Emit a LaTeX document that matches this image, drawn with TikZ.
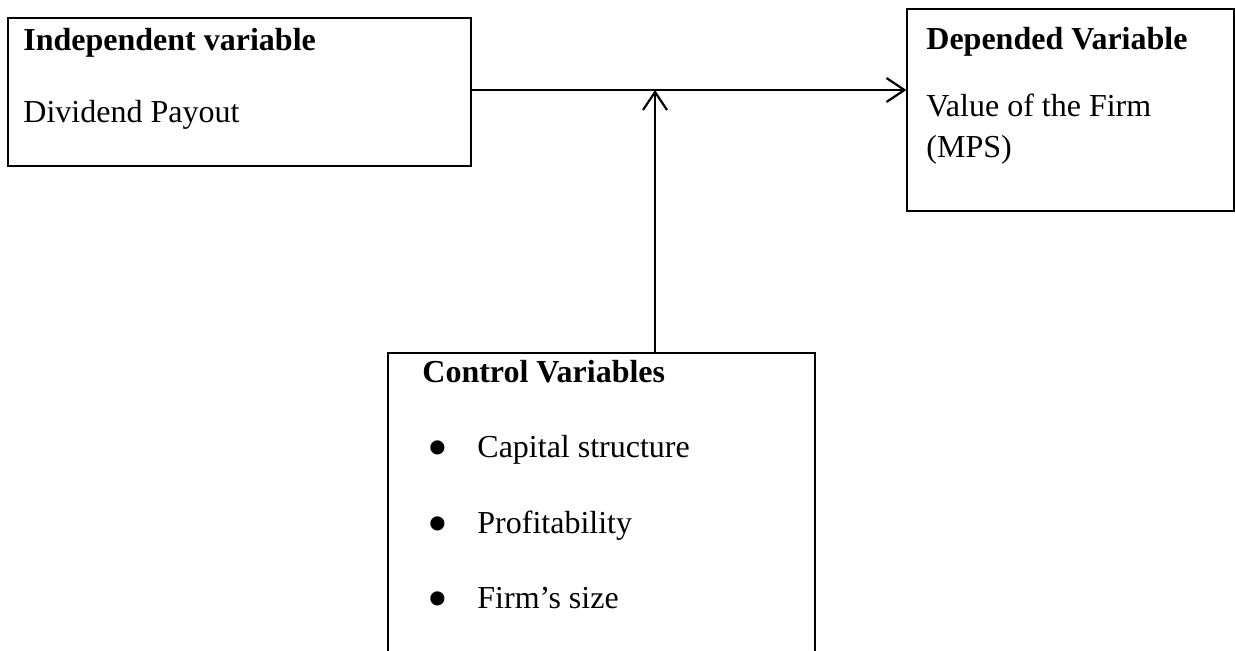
\documentclass[tikz,border=0pt]{standalone}
\usepackage{fontspec}
\setmainfont{Liberation Serif}
\usetikzlibrary{arrows.meta, positioning}
\tikzstyle{varbox} = [rectangle, draw=black, line width=0.6pt, inner sep=0pt]
\tikzstyle{label} = [anchor=base west, inner sep=0pt, font=\fontsize{16}{19}\selectfont]
\tikzstyle{heading} = [label, font=\fontsize{16}{19}\selectfont\bfseries]
\tikzstyle{arrow} = [line width=1.1pt,->,>={Straight Barb[length=9pt,width=12pt]}]
\newcommand{\bigbullet}{\makebox[25pt][l]{\raisebox{-5.2pt}{\scalebox{1.85}{\textbullet}}}}

\begin{document}
\begin{tikzpicture}[x=0.5pt, y=-0.5pt]
\useasboundingbox (0,0) rectangle (1235,650);

\node (ind) [varbox, minimum width=231.5pt, minimum height=74pt] at (239.5,92) {};
\node (dep) [varbox, minimum width=163.5pt, minimum height=101pt] at (1070.5,110) {};
\node (ctl) [varbox, minimum width=213.5pt, minimum height=173.5pt] at (601.5,526.5) {};

\node (ind_title) [heading] at (23,50) {Independent variable};
\node (ind_text) [label] at (23,122) {Dividend Payout};

\node (dep_title) [heading] at (926,49) {Depended Variable};
\node (dep_text1) [label] at (926,116) {Value of the Firm};
\node (dep_text2) [label] at (926,157) {(MPS)};

\node (ctl_title) [heading] at (422,382) {Control Variables};
\node (ctl_cap) [label] at (427,457) {\bigbullet Capital structure};
\node (ctl_prof) [label] at (427,533) {\bigbullet Profitability};
\node (ctl_size) [label] at (427,608) {\bigbullet Firm’s size};

\coordinate (join) at (655,90);

\draw [arrow] (ind.east |- join) -- (dep.west |- join);
\draw [arrow] (join |- ctl.north) -- (join);

\end{tikzpicture}
\end{document}
